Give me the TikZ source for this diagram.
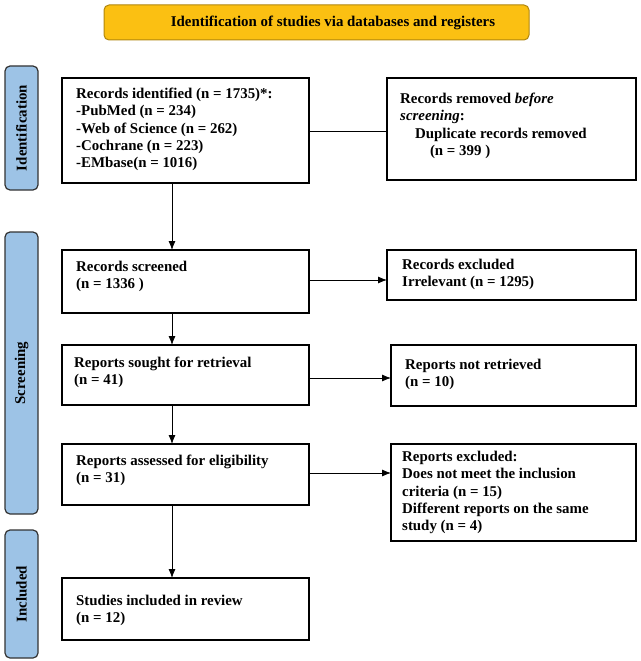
\documentclass[tikz,border=0pt]{standalone}
\usepackage{fontspec}
\setmainfont{Liberation Serif}
\usetikzlibrary{arrows.meta}
\begin{document}
\begin{tikzpicture}[x=1pt,y=-1pt,
 side/.style={draw=black!80,line width=1.2pt,rounded corners=5pt},
 arr/.style={-{Latex[length=9pt,width=7pt]},line width=0.8pt},
 every node/.style={font=\fontsize{14.9}{17.3}\selectfont\bfseries}]
\useasboundingbox (0,0) rectangle (640,661);
\definecolor{orng}{HTML}{FBC012}
\definecolor{sideb}{HTML}{9DC3E6}
\draw[fill=orng,draw=orng!70!black,line width=1pt,rounded corners=5pt] (104,5) rectangle (529,40);
\node (t) at (333,23) {Identification of studies via databases and registers};
\foreach \a/\b/\t in {66/190/Identification,232/514/Screening,530/658/Included}{
 \draw[side,fill=sideb] (5,\a) rectangle (38,\b);
 \node[rotate=90] at (21.5,{(\a+\b)/2}) {\t};}
% boxes
\draw[line width=1.2pt] (62,78) rectangle (309,183);
\node (b1) [anchor=north west,align=left,inner sep=0pt] at (76,88) {Records identified (n = 1735)*:\\-PubMed (n = 234)\\-Web of Science (n = 262)\\-Cochrane (n = 223)\\-EMbase(n = 1016)};
\draw[line width=1.2pt] (387,78) rectangle (636,180);
\node (r1) [anchor=north west,align=left,inner sep=0pt] at (400,93) {Records removed \textit{before}\\\textit{screening}:\\\quad Duplicate records removed\\\qquad(n = 399 )};
\draw[line width=1.2pt] (62,250) rectangle (309,313);
\node (b2) [anchor=north west,align=left,inner sep=0pt] at (76,261) {Records screened\\(n = 1336 )};
\draw[line width=1.2pt] (387,250) rectangle (636,300);
\node (r2) [anchor=north west,align=left,inner sep=0pt] at (402,259) {Records excluded\\Irrelevant (n = 1295)};
\draw[line width=1.2pt] (62,345) rectangle (309,405);
\node (b3) [anchor=north west,align=left,inner sep=0pt] at (74,357) {Reports sought for retrieval\\(n = 41)};
\draw[line width=1.2pt] (391,345) rectangle (636,406);
\node (r3) [anchor=north west,align=left,inner sep=0pt] at (405,359) {Reports not retrieved\\(n = 10)};
\draw[line width=1.2pt] (62,444) rectangle (309,505);
\node (b4) [anchor=north west,align=left,inner sep=0pt] at (76,455) {Reports assessed for eligibility\\(n = 31)};
\draw[line width=1.2pt] (391,444) rectangle (636,541);
\node (r4) [anchor=north west,align=left,inner sep=0pt] at (402,451) {Reports excluded:\\Does not meet the inclusion\\criteria (n = 15)\\Different reports on the same\\study (n = 4)};
\draw[line width=1.2pt] (62,578) rectangle (309,640);
\node (b5) [anchor=north west,align=left,inner sep=0pt] at (76,595) {Studies included in review\\(n = 12)};
% connectors
\coordinate (c1) at (172,183); \coordinate (c2) at (172,250);
\coordinate (c3) at (172,313); \coordinate (c4) at (172,345);
\coordinate (c5) at (172,405); \coordinate (c6) at (172,444);
\coordinate (c7) at (172,505); \coordinate (c8) at (172,578);
\draw[arr] (c1) -- (c2); \draw[arr] (c3) -- (c4);
\draw[arr] (c5) -- (c6); \draw[arr] (c7) -- (c8);
\coordinate (h1) at (309,131); \coordinate (h1e) at (387,131);
\coordinate (h2) at (309,280); \coordinate (h2e) at (387,280);
\coordinate (h3) at (309,378); \coordinate (h3e) at (391,378);
\coordinate (h4) at (309,473); \coordinate (h4e) at (391,473);
\draw[line width=0.8pt] (h1) -- (h1e);
\draw[arr] (h2) -- (h2e); \draw[arr] (h3) -- (h3e); \draw[arr] (h4) -- (h4e);
\end{tikzpicture}
\end{document}
